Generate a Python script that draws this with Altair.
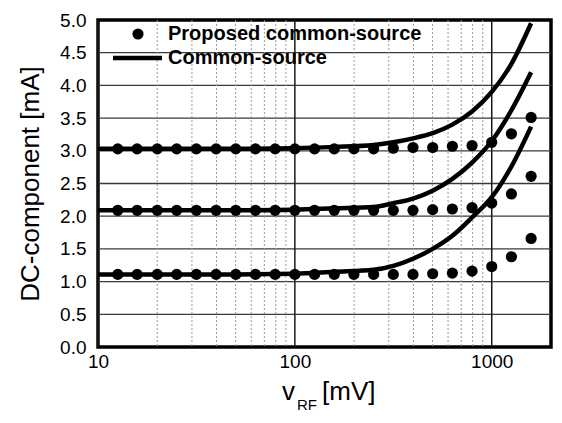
import altair as alt
import pandas as pd

FONT = "Liberation Sans"

# ---- data ----
x_dots = [12.6, 15.8, 20.0, 25.1, 31.6, 39.8, 50.1, 63.1, 79.4, 100.0, 125.9,
          158.5, 199.5, 251.2, 316.2, 398.1, 501.2, 631.0, 794.3, 1000.0, 1258.9, 1584.9]
dots_high = [3.03, 3.03, 3.03, 3.03, 3.03, 3.03, 3.03, 3.03, 3.03, 3.03, 3.03,
             3.03, 3.03, 3.03, 3.04, 3.05, 3.05, 3.07, 3.08, 3.13, 3.26, 3.51]
dots_mid = [2.09, 2.09, 2.09, 2.09, 2.09, 2.09, 2.09, 2.09, 2.09, 2.09, 2.09,
            2.09, 2.09, 2.09, 2.09, 2.09, 2.10, 2.11, 2.13, 2.20, 2.34, 2.61]
dots_low = [1.11, 1.11, 1.11, 1.11, 1.11, 1.11, 1.11, 1.11, 1.11, 1.11, 1.11,
            1.11, 1.11, 1.11, 1.11, 1.11, 1.12, 1.13, 1.16, 1.23, 1.38, 1.66]

x_line = [10.0, 50.0, 100.0, 158.5, 251.2, 316.2, 398.1, 501.2, 631.0, 794.3, 1000.0, 1258.9, 1584.9]
line_high = [3.03, 3.03, 3.04, 3.06, 3.09, 3.13, 3.19, 3.27, 3.40, 3.60, 3.90, 4.33, 4.95]
line_mid = [2.09, 2.09, 2.10, 2.12, 2.14, 2.20, 2.27, 2.39, 2.57, 2.82, 3.15, 3.62, 4.20]
line_low = [1.11, 1.11, 1.12, 1.15, 1.18, 1.24, 1.35, 1.50, 1.70, 1.98, 2.29, 2.76, 3.37]

y_grid = [0.5, 1.0, 1.5, 2.0, 2.5, 3.0, 3.5, 4.0, 4.5]
x_major = [10, 100, 1000]
x_minor = [20, 30, 40, 50, 60, 70, 80, 90, 200, 300, 400, 500, 600, 700, 800, 900]
y_ticks = [0.0, 0.5, 1.0, 1.5, 2.0, 2.5, 3.0, 3.5, 4.0, 4.5, 5.0]
x_ticks = [10, 100, 1000]
legend_labels = ["Proposed common-source", "Common-source"]

# ---- tables ----
dots = pd.DataFrame({
    "x": x_dots * 3,
    "y": dots_high + dots_mid + dots_low,
    "s": ["high"] * len(x_dots) + ["mid"] * len(x_dots) + ["low"] * len(x_dots),
})
lines = pd.DataFrame({
    "x": x_line * 3,
    "y": line_high + line_mid + line_low,
    "s": ["high"] * len(x_line) + ["mid"] * len(x_line) + ["low"] * len(x_line),
})

W, H = 453, 327
xs = alt.Scale(type="log", domain=[10, 2000], nice=False)
ys = alt.Scale(domain=[0, 5], nice=False)

x_axis = alt.Axis(
    values=x_ticks, format="d", tickSize=0, domain=False, grid=False,
    labelFont=FONT, labelFontSize=19, labelColor="black", labelPadding=5,
    labelFlush=False, title=None)
y_axis = alt.Axis(
    values=y_ticks, format=".1f", tickSize=0, domain=False, grid=False,
    labelFont=FONT, labelFontSize=19, labelColor="black", labelPadding=12,
    labelFlush=False, title="DC-component [mA]", titleFont=FONT,
    titleFontSize=26, titleFontWeight="normal", titleColor="black",
    titlePadding=16)


def X():
    return alt.X("x:Q", scale=xs, axis=x_axis)


def Y():
    return alt.Y("y:Q", scale=ys, axis=y_axis)


hgrid = alt.Chart(pd.DataFrame({"y": y_grid})).mark_rule(
    color="#3a3a3a", strokeWidth=1.3
).encode(y=Y())

vminor = alt.Chart(pd.DataFrame({"x": x_minor})).mark_rule(
    color="#9a9a9a", strokeWidth=1, strokeDash=[2, 2]
).encode(x=X())

vmajor = alt.Chart(pd.DataFrame({"x": x_major})).mark_rule(
    color="#1a1a1a", strokeWidth=1.5
).encode(x=X())

line_layer = alt.Chart(lines).mark_line(
    color="black", strokeWidth=4.5, interpolate="monotone", clip=True
).encode(x=X(), y=Y(), detail="s:N")

point_layer = alt.Chart(dots).mark_circle(
    color="black", size=125, opacity=1
).encode(x=X(), y=Y())

leg_df = pd.DataFrame({"label": legend_labels})
leg_dot = alt.Chart(leg_df.iloc[[0]]).mark_circle(color="black", size=125, opacity=1).encode(
    x=alt.value(40), y=alt.value(14))
leg_line = alt.Chart(leg_df.iloc[[1]]).mark_rule(color="black", strokeWidth=4.5).encode(
    x=alt.value(15), x2=alt.value(64), y=alt.value(38))
leg_text1 = alt.Chart(leg_df.iloc[[0]]).mark_text(
    font=FONT, fontSize=20, fontWeight="bold", align="left", baseline="middle", color="black"
).encode(x=alt.value(70), y=alt.value(14), text="label:N")
leg_text2 = alt.Chart(leg_df.iloc[[1]]).mark_text(
    font=FONT, fontSize=20, fontWeight="bold", align="left", baseline="middle", color="black"
).encode(x=alt.value(70), y=alt.value(38), text="label:N")

title_df = pd.DataFrame({"a": ["v"], "b": ["RF"], "c": ["[mV]"]})
t_v = alt.Chart(title_df).mark_text(font=FONT, fontSize=26, align="left",
                                    baseline="alphabetic", color="black").encode(
    x=alt.value(184), y=alt.value(380), text="a:N")
t_rf = alt.Chart(title_df).mark_text(font=FONT, fontSize=15, align="left",
                                     baseline="alphabetic", color="black").encode(
    x=alt.value(199), y=alt.value(390), text="b:N")
t_mv = alt.Chart(title_df).mark_text(font=FONT, fontSize=26, align="left",
                                     baseline="alphabetic", color="black").encode(
    x=alt.value(224), y=alt.value(380), text="c:N")

chart = alt.layer(
    hgrid, vminor, vmajor, line_layer, point_layer,
    leg_dot, leg_line, leg_text1, leg_text2, t_v, t_rf, t_mv
).properties(
    width=W, height=H,
    autosize=alt.AutoSizeParams(type="none"),
    padding={"left": 90, "top": 12, "right": 3, "bottom": 70},
    background="white",
).configure_view(stroke="black", strokeWidth=3.5)

chart.save("out.html", embed_options={"renderer": "svg", "actions": False})
